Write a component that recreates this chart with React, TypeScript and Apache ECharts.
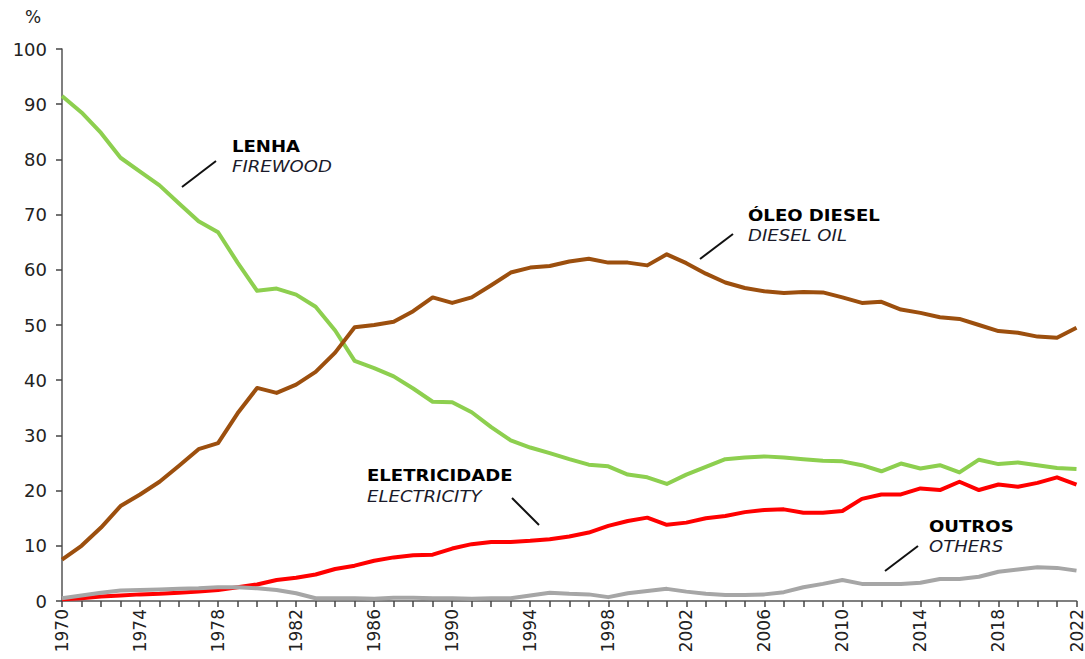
import React, { useEffect, useRef } from "react";
import * as echarts from "echarts";

const years: string[] = [];
for (let y = 1970; y <= 2022; y++) years.push(String(y));

const firewood = [
  91.5, 88.5, 84.8, 80.3, 77.8, 75.3, 72.0, 68.8, 66.8, 61.3,
  56.2, 56.6, 55.5, 53.3, 49.0, 43.5, 42.2, 40.7, 38.5, 36.1,
  36.0, 34.2, 31.5, 29.1, 27.8, 26.8, 25.7, 24.7, 24.4, 22.9,
  22.4, 21.2, 22.9, 24.3, 25.7, 26.0, 26.2, 26.0, 25.7, 25.4,
  25.3, 24.6, 23.5, 24.9, 24.0, 24.6, 23.3, 25.6, 24.8, 25.1,
  24.6, 24.1, 23.9,
];
const diesel = [
  7.5, 10.0, 13.3, 17.2, 19.3, 21.6, 24.5, 27.5, 28.6, 34.0,
  38.6, 37.7, 39.2, 41.5, 45.0, 49.6, 50.0, 50.6, 52.5, 55.0,
  54.0, 55.0, 57.2, 59.5, 60.4, 60.7, 61.5, 62.0, 61.3, 61.3,
  60.8, 62.8, 61.2, 59.3, 57.7, 56.7, 56.1, 55.8, 56.0, 55.9,
  55.0, 54.0, 54.2, 52.8, 52.2, 51.4, 51.1, 50.0, 48.9, 48.6,
  47.9, 47.7, 49.5,
];
const electricity = [
  0.3, 0.5, 0.8, 1.0, 1.2, 1.3, 1.5, 1.7, 2.0, 2.5,
  3.0, 3.8, 4.2, 4.8, 5.8, 6.4, 7.3, 7.9, 8.3, 8.4,
  9.5, 10.3, 10.7, 10.7, 10.9, 11.2, 11.7, 12.4, 13.6, 14.5,
  15.1, 13.8, 14.2, 15.0, 15.4, 16.1, 16.5, 16.6, 16.0, 16.0,
  16.3, 18.5, 19.3, 19.3, 20.4, 20.1, 21.6, 20.1, 21.1, 20.7,
  21.4, 22.4, 21.1,
];
const others = [
  0.5, 1.0, 1.5, 1.9, 2.0, 2.1, 2.2, 2.3, 2.5, 2.5,
  2.3, 2.0, 1.4, 0.5, 0.5, 0.5, 0.4, 0.6, 0.6, 0.5,
  0.5, 0.4, 0.5, 0.5, 1.0, 1.5, 1.3, 1.2, 0.7, 1.4,
  1.8, 2.2, 1.7, 1.3, 1.1, 1.1, 1.2, 1.6, 2.5, 3.1,
  3.8, 3.1, 3.1, 3.1, 3.3, 4.0, 4.0, 4.4, 5.3, 5.7,
  6.1, 6.0, 5.5,
];

const seriesNames = ["LENHA", "ÓLEO DIESEL", "ELETRICIDADE", "OUTROS"];
const seriesColors = ["#8DCF4F", "#9C4F0E", "#FF0000", "#A6A6A6"];

const FONT = '"DejaVu Sans", Verdana, sans-serif';

function annotation(
  x: number,
  y: number,
  bold: string,
  italic: string,
  line: [number, number, number, number]
) {
  return [
    {
      type: "group",
      x,
      y,
      scaleX: 1.13,
      children: [
        {
          type: "text",
          x: 0,
          y: 0,
          style: {
            text: bold,
            fontSize: 16,
            fontWeight: "bold",
            fontFamily: FONT,
            fill: "#000",
            verticalAlign: "middle",
          },
        },
        {
          type: "text",
          x: 0,
          y: 20.5,
          style: {
            text: italic,
            fontSize: 16,
            fontStyle: "italic",
            fontFamily: FONT,
            fill: "#1a1a2a",
            verticalAlign: "middle",
          },
        },
      ],
    },
    {
      type: "line",
      shape: { x1: line[0], y1: line[1], x2: line[2], y2: line[3] },
      style: { stroke: "#111", lineWidth: 2 },
    },
  ];
}

export default function App() {
  const ref = useRef<HTMLDivElement>(null);
  useEffect(() => {
    document.body.style.margin = "0";
    if (!ref.current) return;
    const chart = echarts.init(ref.current, null, { renderer: "svg" });
    const data = [firewood, diesel, electricity, others];
    chart.setOption({
      animation: false,
      backgroundColor: "#fff",
      grid: { left: 62, right: 7, top: 49, bottom: 58, containLabel: false },
      xAxis: {
        type: "category",
        data: years,
        boundaryGap: false,
        axisLine: { lineStyle: { color: "#555", width: 1.5 } },
        axisTick: {
          show: true,
          interval: 0,
          length: 6,
          lineStyle: { color: "#444", width: 1.5 },
        },
        axisLabel: {
          interval: 3,
          rotate: 90,
          margin: 8,
          fontSize: 17,
          fontFamily: FONT,
          color: "#222",
        },
        splitLine: { show: false },
      },
      yAxis: {
        type: "value",
        min: 0,
        max: 100,
        interval: 10,
        axisLine: { show: true, lineStyle: { color: "#555", width: 1.5 } },
        axisTick: { show: true, length: 6, lineStyle: { color: "#444", width: 1.5 } },
        axisLabel: {
          margin: 15,
          fontSize: 18,
          fontFamily: FONT,
          color: "#222",
        },
        splitLine: { show: false },
      },
      series: data.map((d, i) => ({
        name: seriesNames[i],
        type: "line",
        data: d,
        symbol: "none",
        silent: true,
        lineStyle: { color: seriesColors[i], width: 4, join: "round" },
        z: 2 + i,
      })),
      graphic: [
        {
          type: "text",
          x: 33,
          y: 17,
          style: {
            text: "%",
            fontSize: 17,
            fontFamily: FONT,
            fill: "#222",
            align: "center",
            verticalAlign: "middle",
          },
        },
        ...annotation(232, 146, "LENHA", "FIREWOOD", [182, 187, 216, 161]),
        ...annotation(748, 215, "ÓLEO DIESEL", "DIESEL OIL", [700, 259, 733, 234]),
        ...annotation(367, 475.5, "ELETRICIDADE", "ELECTRICITY", [512, 498, 539, 525]),
        ...annotation(929, 526, "OUTROS", "OTHERS", [885, 571, 918, 546]),
      ],
    });
    return () => chart.dispose();
  }, []);
  return <div ref={ref} style={{ width: 1085, height: 659 }} />;
}
